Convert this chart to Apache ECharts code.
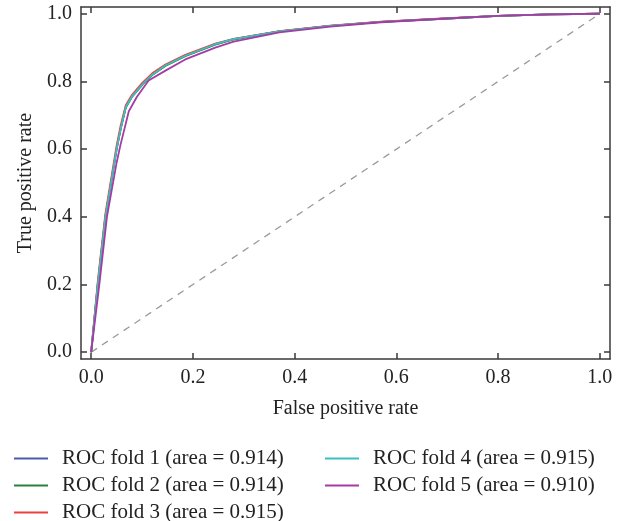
<!DOCTYPE html>
<html><head><meta charset="utf-8">
<script src="https://cdn.jsdelivr.net/npm/echarts@6/dist/echarts.min.js"></script>
<style>html,body{margin:0;padding:0;background:#fff}#c{width:622px;height:521px}</style>
</head><body><div id="c"></div>
<script>
const tickValues = [0, 0.2, 0.4, 0.6, 0.8, 1.0];
const seriesNames = ['ROC fold 1 (area = 0.914)','ROC fold 2 (area = 0.914)','ROC fold 3 (area = 0.915)','ROC fold 4 (area = 0.915)','ROC fold 5 (area = 0.910)'];
const seriesColors = ['#4a5aa8','#2a8040','#ee4040','#3cbfbf','#a43ca4'];
const fprA = [0, 0.013, 0.028, 0.05, 0.058, 0.068, 0.08, 0.10, 0.12, 0.146, 0.185, 0.244, 0.28, 0.37, 0.47, 0.57, 0.7, 0.8, 0.9, 1.0];
const tprFold1 = [0, 0.2, 0.4, 0.6, 0.66, 0.724, 0.755, 0.79, 0.82, 0.847, 0.876, 0.91, 0.925, 0.948, 0.964, 0.976, 0.986, 0.994, 0.998, 1.0];
const tprFold2 = [0, 0.2, 0.4, 0.6, 0.66, 0.723, 0.754, 0.789, 0.819, 0.846, 0.875, 0.909, 0.924, 0.948, 0.964, 0.976, 0.986, 0.994, 0.998, 1.0];
const tprFold3 = [0, 0.21, 0.41, 0.61, 0.67, 0.73, 0.76, 0.795, 0.824, 0.85, 0.879, 0.912, 0.926, 0.949, 0.965, 0.977, 0.987, 0.994, 0.998, 1.0];
const tprFold4 = [0, 0.2, 0.4, 0.6, 0.66, 0.724, 0.755, 0.79, 0.82, 0.847, 0.876, 0.91, 0.925, 0.948, 0.964, 0.976, 0.986, 0.994, 0.998, 1.0];
const fprB = [0, 0.016, 0.031, 0.05, 0.0575, 0.074, 0.09, 0.113, 0.146, 0.185, 0.244, 0.28, 0.37, 0.47, 0.57, 0.7, 0.8, 0.9, 1.0];
const tprFold5 = [0, 0.2, 0.4, 0.56, 0.612, 0.712, 0.755, 0.803, 0.832, 0.865, 0.90, 0.918, 0.945, 0.962, 0.975, 0.986, 0.994, 0.998, 1.0];
const chanceLine = [[0, 0], [1, 1]];

const fprs = [fprA, fprA, fprA, fprA, fprB];
const tprs = [tprFold1, tprFold2, tprFold3, tprFold4, tprFold5];
const zip = (a, b) => a.map((v, i) => [v, b[i]]);
const font = 'Liberation Serif';
const frame = {show: true, onZero: false, lineStyle: {color: '#3a3a3a', width: 1.5}};
const tick = {show: true, inside: true, length: 6, lineStyle: {color: '#3a3a3a', width: 1.5}, customValues: tickValues};
const lbl = {fontFamily: font, fontSize: 20, color: '#222', customValues: tickValues, formatter: v => v.toFixed(1)};

const series = seriesNames.map((n, i) => ({
  name: n, type: 'line', data: zip(fprs[i], tprs[i]), symbol: 'none', smooth: false,
  lineStyle: {color: seriesColors[i], width: 1.8}, itemStyle: {color: seriesColors[i]}, z: 3 + i
}));
series.push({type: 'line', data: chanceLine, symbol: 'none', silent: true,
  lineStyle: {color: '#9a9a9a', width: 1.3, type: [7, 6]}, z: 2});

const chart = echarts.init(document.getElementById('c'));
const legendCommon = {orient: 'vertical', itemWidth: 34, itemHeight: 2, itemGap: 6, padding: 0,
  height: 75, icon: 'path://M0,0 L34,0 L34,2 L0,2 Z',
  textStyle: {fontFamily: font, fontSize: 21, color: '#222', lineHeight: 20, padding: [0, 0, 0, 9]}};
chart.setOption({
  animation: false,
  backgroundColor: '#fff',
  grid: {left: 81, right: 12, top: 7, bottom: 162},
  legend: [
    Object.assign({left: 14, top: 448, data: seriesNames.slice(0, 3)}, legendCommon),
    Object.assign({left: 325, top: 448, data: seriesNames.slice(3)}, legendCommon)
  ],
  xAxis: [
    {type: 'value', min: -0.02, max: 1.02, axisLine: frame, axisTick: tick, splitLine: {show: false},
     axisLabel: Object.assign({margin: 9}, lbl), name: 'False positive rate', nameLocation: 'middle', nameGap: 40,
     nameTextStyle: {fontFamily: font, fontSize: 20, color: '#222'}},
    {type: 'value', position: 'top', min: -0.02, max: 1.02, axisLine: frame, axisTick: tick,
     splitLine: {show: false}, axisLabel: {show: false}}
  ],
  yAxis: [
    {type: 'value', min: -0.02, max: 1.02, axisLine: frame, axisTick: tick, splitLine: {show: false},
     axisLabel: Object.assign({margin: 9}, lbl), name: 'True positive rate', nameLocation: 'middle', nameGap: 45,
     nameTextStyle: {fontFamily: font, fontSize: 20, color: '#222'}},
    {type: 'value', position: 'right', min: -0.02, max: 1.02, axisLine: frame, axisTick: tick,
     splitLine: {show: false}, axisLabel: {show: false}}
  ],
  series: series
});
</script></body></html>
